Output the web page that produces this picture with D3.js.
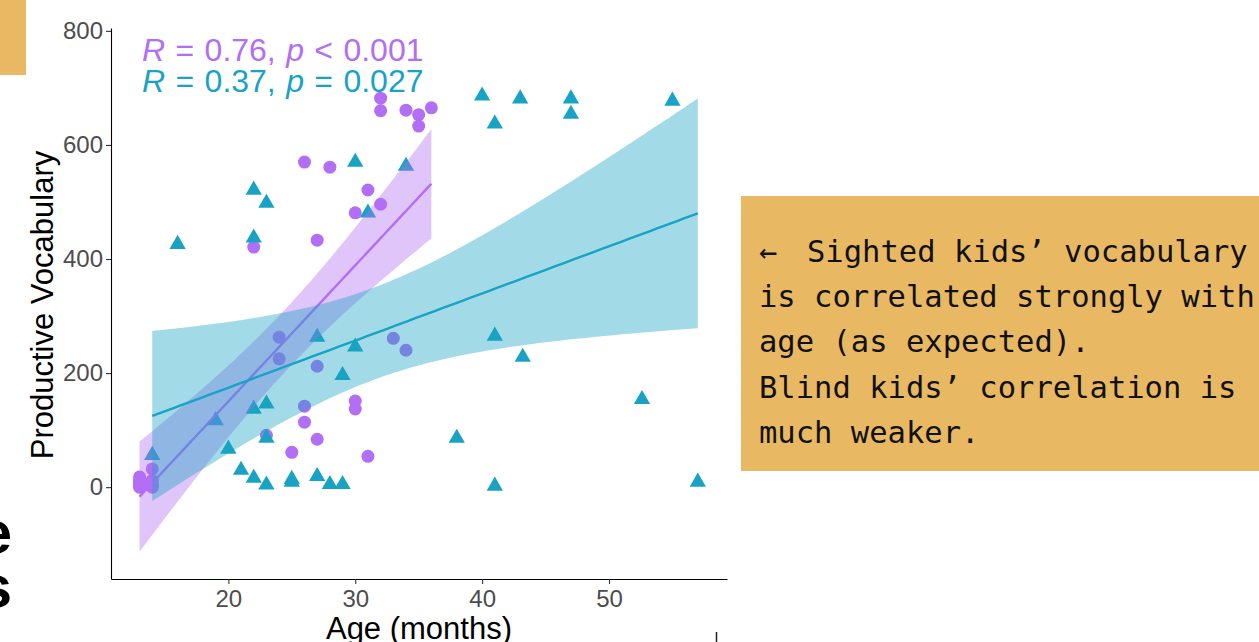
<!DOCTYPE html>
<html>
<head>
<meta charset="utf-8">
<script src="https://cdn.jsdelivr.net/npm/d3@7"></script>
<style>
  html, body { margin: 0; padding: 0; background: #fff; }
  svg { display: block; }
</style>
</head>
<body>
<svg id="chart" width="1259" height="642"></svg>
<script>
// Sighted children: age in months and productive vocabulary
const sightedAge = [13, 13, 13, 13, 13, 13, 14, 14, 14, 14, 14,
  22, 23, 24, 24, 25, 26, 26, 26, 27, 27, 27, 28, 30, 30, 30, 31, 31,
  32, 32, 32, 33, 34, 34, 35, 35, 36];
const sightedVocab = [18, 8, 2, 0, 5, 12, 32, 12, 3, 0, 6,
  421, 91, 263, 225, 61, 570, 142, 114, 433, 212, 84, 561, 481, 151, 137, 521, 54,
  496, 682, 660, 261, 661, 240, 653, 633, 665];

// Blind children: age in months and productive vocabulary
const blindAge = [14, 16, 19, 20, 21, 22, 22, 22, 22, 23, 23, 23, 23, 25, 25, 27, 27,
  28, 29, 29, 30, 30, 31, 34, 38, 40, 41, 41, 41, 43, 43.2, 47, 47, 52.6, 55, 57];
const blindVocab = [56, 426, 117, 67, 30, 16, 521, 437, 137, 498, 146, 86, 4, 14, 9, 263, 19,
  5, 196, 5, 570, 246, 481, 563, 86, 686, 637, 265, 2, 681, 228, 681, 654, 154, 677, 9];

// Axis ticks
const xTicks = [20, 30, 40, 50];
const yTicks = [0, 200, 400, 600, 800];

// Correlation labels
const statLabels = [
  { r: "0.76", op: "<", p: "0.001" },
  { r: "0.37", op: "=", p: "0.027" }
];

// Side note
const noteArrow = "←";
const noteLines = [
  "Sighted kids’ vocabulary",
  "is correlated strongly with",
  "age (as expected).",
  "Blind kids’ correlation is",
  "much weaker."
];

const purple = "#B26EF5";
const cyan = "#18A3C4";
const orange = "#E8B962";

const svg = d3.select("#chart");

// Slide fragments around the chart
svg.append("rect").attr("x", 0).attr("y", 0).attr("width", 26).attr("height", 75).attr("fill", orange);
svg.append("text").attr("x", 12).attr("y", 553).attr("text-anchor", "end")
  .attr("font-family", "Liberation Sans, Arial, sans-serif").attr("font-weight", "bold")
  .attr("font-size", 60).attr("fill", "#000").text("e");
svg.append("text").attr("x", 12).attr("y", 607).attr("text-anchor", "end")
  .attr("font-family", "Liberation Sans, Arial, sans-serif").attr("font-weight", "bold")
  .attr("font-size", 60).attr("fill", "#000").text("s");
svg.append("line").attr("x1", 716.5).attr("x2", 716.5).attr("y1", 632).attr("y2", 642)
  .attr("stroke", "#222").attr("stroke-width", 1.5);

// Scales
const x = d3.scaleLinear().domain([10.75, 59.3]).range([111, 727]);
const y = d3.scaleLinear().domain([-161, 805]).range([579, 28]);

// Least-squares fit with 95% confidence band
function tQuantile975(df) {
  const z = 1.959964;
  const z3 = z * z * z, z5 = z3 * z * z, z7 = z5 * z * z;
  return z + (z3 + z) / (4 * df) + (5 * z5 + 16 * z3 + 3 * z) / (96 * df * df)
    + (3 * z7 + 19 * z5 + 17 * z3 - 15 * z) / (384 * df * df * df);
}
function fitBand(xs, ys) {
  const n = xs.length;
  const mx = d3.mean(xs), my = d3.mean(ys);
  let sxx = 0, sxy = 0;
  xs.forEach((xi, i) => { sxx += (xi - mx) ** 2; sxy += (xi - mx) * (ys[i] - my); });
  const b = sxy / sxx, a = my - b * mx;
  let sse = 0;
  xs.forEach((xi, i) => { sse += (ys[i] - (a + b * xi)) ** 2; });
  const s = Math.sqrt(sse / (n - 2));
  const t = tQuantile975(n - 2);
  const [lo, hi] = d3.extent(xs);
  return d3.range(80).map(k => {
    const xv = lo + (hi - lo) * k / 79;
    const fit = a + b * xv;
    const se = s * Math.sqrt(1 / n + (xv - mx) ** 2 / sxx);
    return { x: xv, fit, lower: fit - t * se, upper: fit + t * se };
  });
}

const sightedPts = sightedAge.map((a, i) => ({ age: a, v: sightedVocab[i] }));
const blindPts = blindAge.map((a, i) => ({ age: a, v: blindVocab[i] }));

// Points
const pts = svg.append("g");
pts.selectAll("circle").data(sightedPts).join("circle")
  .attr("cx", d => x(d.age)).attr("cy", d => y(d.v)).attr("r", 6.5).attr("fill", purple);
pts.selectAll("path").data(blindPts).join("path")
  .attr("transform", d => `translate(${x(d.age)},${y(d.v)})`)
  .attr("d", d3.symbol(d3.symbolTriangle, 115)())
  .attr("fill", cyan);

// Smooths: ribbon then fitted line for each group
const area = d3.area().x(d => x(d.x)).y0(d => y(d.lower)).y1(d => y(d.upper));
const line = d3.line().x(d => x(d.x)).y(d => y(d.fit));
[[sightedAge, sightedVocab, purple], [blindAge, blindVocab, cyan]].forEach(([xs, ys, col]) => {
  const band = fitBand(xs, ys);
  svg.append("path").datum(band).attr("d", area).attr("fill", col).attr("fill-opacity", 0.4);
  svg.append("path").datum(band).attr("d", line).attr("fill", "none")
    .attr("stroke", col).attr("stroke-width", 2.4);
});

// Axes
const axisFont = "Liberation Sans, Arial, Helvetica, sans-serif";
const xAxis = svg.append("g").attr("transform", "translate(0,579)")
  .call(d3.axisBottom(x).tickValues(xTicks).tickSize(5).tickPadding(6).tickSizeOuter(0));
const yAxis = svg.append("g").attr("transform", "translate(111,0)")
  .call(d3.axisLeft(y).tickValues(yTicks).tickSize(5).tickPadding(3).tickSizeOuter(0));
[xAxis, yAxis].forEach(g => {
  g.select(".domain").attr("stroke", "#000").attr("stroke-width", 1.1);
  g.selectAll(".tick line").attr("stroke", "#333").attr("stroke-width", 1.1);
  g.selectAll(".tick text").attr("fill", "#4D4D4D").attr("font-size", 24).attr("font-family", axisFont);
});

svg.append("text").attr("x", 419).attr("y", 639).attr("text-anchor", "middle")
  .attr("font-family", axisFont).attr("font-size", 31).attr("fill", "#000").text("Age (months)");
svg.append("text").attr("transform", "translate(53,305) rotate(-90)").attr("text-anchor", "middle")
  .attr("font-family", axisFont).attr("font-size", 31).attr("fill", "#000").text("Productive Vocabulary");

// Correlation labels
statLabels.forEach((s, i) => {
  const t = svg.append("text").attr("x", 142).attr("y", 61 + i * 31)
    .attr("font-family", axisFont).attr("font-size", 32).attr("fill", i === 0 ? purple : cyan)
    .attr("word-spacing", 1.5)
    .attr("xml:space", "preserve").style("white-space", "pre");
  t.append("tspan").attr("font-style", "italic").text("R");
  t.append("tspan").text(" = " + s.r + ", ");
  t.append("tspan").attr("font-style", "italic").text("p");
  t.append("tspan").text(" " + s.op + " " + s.p);
});

// Side note box
svg.append("rect").attr("x", 741).attr("y", 196).attr("width", 530).attr("height", 275).attr("fill", orange);
const note = svg.append("g").attr("font-family", "DejaVu Sans Mono, monospace")
  .attr("font-size", 30.5).attr("fill", "#111");
note.append("text").attr("x", 759).attr("y", 262).text(noteArrow);
noteLines.forEach((l, i) => {
  note.append("text").attr("x", i === 0 ? 807 : 759).attr("y", 262 + i * 45.2)
    .attr("xml:space", "preserve").style("white-space", "pre").text(l);
});
</script>
</body>
</html>
